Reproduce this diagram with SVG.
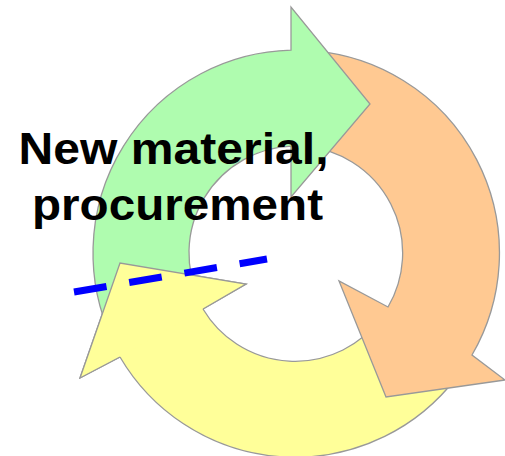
<svg xmlns="http://www.w3.org/2000/svg" width="505" height="456" viewBox="0 0 505 456">
<style>
.arr{stroke:#999999;stroke-width:1.3;stroke-linejoin:miter}
.green{fill:#AFFCAF}
.orange{fill:#FFC992}
.yellow{fill:#FFFF99}
.nostroke{stroke:none}
.outline{fill:none;stroke:#999999;stroke-width:1.3}
.lbl{font-family:"Liberation Sans",Arial,sans-serif;font-weight:bold;font-size:45px;fill:#000000}
.dash{stroke:#0000FF;stroke-width:7;stroke-dasharray:33 23;fill:none}
</style>
<g id="arrow-yellow">
<path class="arr yellow" d="M456,378 A203,203 0 0 1 120,357 L80,378 L120,263 L246,284 L203,309 A107,107 0 0 0 380.3,318.9 Z"/>
</g>
<g id="arrow-orange">
<path class="arr orange" d="M313.7,50.8 A203,203 0 0 1 472,355 L505,380 L386,397 L339,281 L388,307 A107,107 0 0 0 305.3,146.4 Z"/>
</g>
<g id="arrow-green">
<path class="arr green" d="M112,338.8 A203,203 0 0 1 291,50.1 L291,7 L370,104 L291,197 L291,146.1 A107,107 0 0 0 199,298.2 Z"/>
</g>
<g id="arrow-yellow-head">
<path class="yellow nostroke" d="M120,357 L80,378 L120,263 L246,284 L203,309 Z"/>
<path class="outline" d="M120,357 L80,378 L120,263 L246,284 L203,309"/>
</g>
<g id="connectors">
<line class="dash" x1="74" y1="292" x2="267" y2="259"/>
</g>
<g id="label">
<text class="lbl" x="18.5" y="164" textLength="310" lengthAdjust="spacingAndGlyphs">New material,</text>
<text class="lbl" x="32" y="220" textLength="291" lengthAdjust="spacingAndGlyphs">procurement</text>
</g>
</svg>
